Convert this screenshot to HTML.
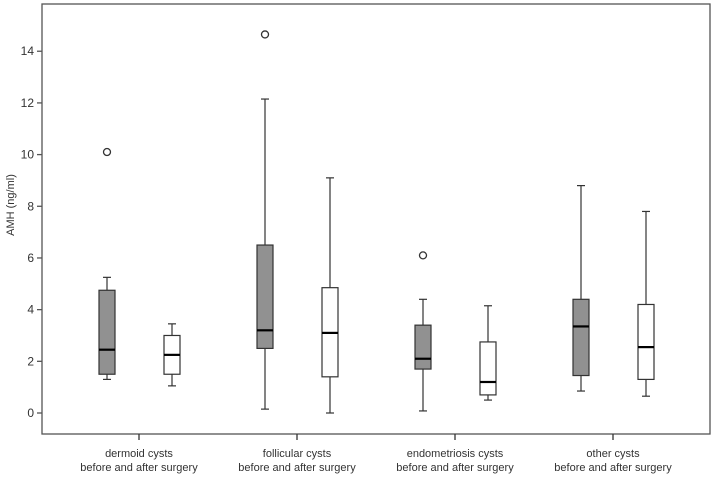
<!DOCTYPE html>
<html><head><meta charset="utf-8"><style>
html,body{margin:0;padding:0;background:#fff;}
svg text{font-family:"Liberation Sans",Arial,sans-serif;fill:#333;}
</style></head><body>
<svg id="chart" width="714" height="477" xmlns="http://www.w3.org/2000/svg">
<rect x="42" y="4" width="668" height="430" fill="none" stroke="#555" stroke-width="1.3"/>
<text x="0" y="0" font-size="11" transform="translate(14,205) rotate(-90)" text-anchor="middle">AMH  (ng/ml)</text>
<g id="yaxis"></g>
<g id="xaxis"></g>
<g id="boxes"></g>
</svg>
<script>
const categories=["dermoid cysts","follicular cysts","endometriosis cysts","other cysts"];
const yTicks=[0,2,4,6,8,10,12,14];
const beforeLow=[1.3,0.15,0.08,0.85];
const beforeQ1=[1.5,2.5,1.7,1.45];
const beforeMed=[2.45,3.2,2.1,3.35];
const beforeQ3=[4.75,6.5,3.4,4.4];
const beforeHigh=[5.25,12.15,4.4,8.8];
const afterLow=[1.05,0,0.5,0.65];
const afterQ1=[1.5,1.4,0.7,1.3];
const afterMed=[2.25,3.1,1.2,2.55];
const afterQ3=[3.0,4.85,2.75,4.2];
const afterHigh=[3.45,9.1,4.15,7.8];
const outlierGroup=[0,1,2];
const outlierValue=[10.1,14.65,6.1];

const NS="http://www.w3.org/2000/svg";
function y(v){return 413-v*25.84;}
function xc(i){return 139+i*158;}
function mk(tag,attrs,parent){const e=document.createElementNS(NS,tag);for(const k in attrs)e.setAttribute(k,attrs[k]);parent.appendChild(e);return e;}
const ya=document.getElementById('yaxis');
yTicks.forEach(t=>{
  const l=mk('line',{x1:37,x2:42,y1:y(t),y2:y(t),stroke:'#555','stroke-width':1.3},ya);
  
  
  const tx=mk('text',{x:34,y:y(t)+4,'font-size':12,'text-anchor':'end'},ya);
  tx.textContent=t;
  
  
});
const xa=document.getElementById('xaxis');
categories.forEach((c,i)=>{
  const l=mk('line',{x1:xc(i),x2:xc(i),y1:434,y2:440,stroke:'#333','stroke-width':1.3},xa);
  
  
  const t1=mk('text',{x:xc(i),y:457,'font-size':11,'text-anchor':'middle'},xa);
  t1.textContent=c;
  
  
  const t2=mk('text',{x:xc(i),y:471,'font-size':11,'text-anchor':'middle'},xa);
  t2.textContent="before and after surgery";
  
  
});
const bx=document.getElementById('boxes');
function box(cx,lo,q1,md,q3,hi,fill,name){
  const g=mk('g',{},bx);
  
  
  const w=8,cap=4,st={stroke:'#333','stroke-width':1.2};
  mk('line',Object.assign({x1:cx,x2:cx,y1:y(hi),y2:y(q3)},st),g);
  mk('line',Object.assign({x1:cx,x2:cx,y1:y(q1),y2:y(lo)},st),g);
  mk('line',Object.assign({x1:cx-cap,x2:cx+cap,y1:y(hi),y2:y(hi)},st),g);
  mk('line',Object.assign({x1:cx-cap,x2:cx+cap,y1:y(lo),y2:y(lo)},st),g);
  mk('rect',Object.assign({x:cx-w,y:y(q3),width:2*w,height:y(q1)-y(q3),fill:fill},st),g);
  mk('line',{x1:cx-w,x2:cx+w,y1:y(md),y2:y(md),stroke:'#000','stroke-width':2.2},g);
}
categories.forEach((c,i)=>{
  box(xc(i)-32,beforeLow[i],beforeQ1[i],beforeMed[i],beforeQ3[i],beforeHigh[i],'#919191','box-before-'+i);
  box(xc(i)+33,afterLow[i],afterQ1[i],afterMed[i],afterQ3[i],afterHigh[i],'#fff','box-after-'+i);
});
outlierGroup.forEach((g,k)=>{
  const c=mk('circle',{cx:xc(g)-32,cy:y(outlierValue[k]),r:3.5,fill:'none',stroke:'#333','stroke-width':1.3},bx);
  
  
});
</script>
</body></html>
